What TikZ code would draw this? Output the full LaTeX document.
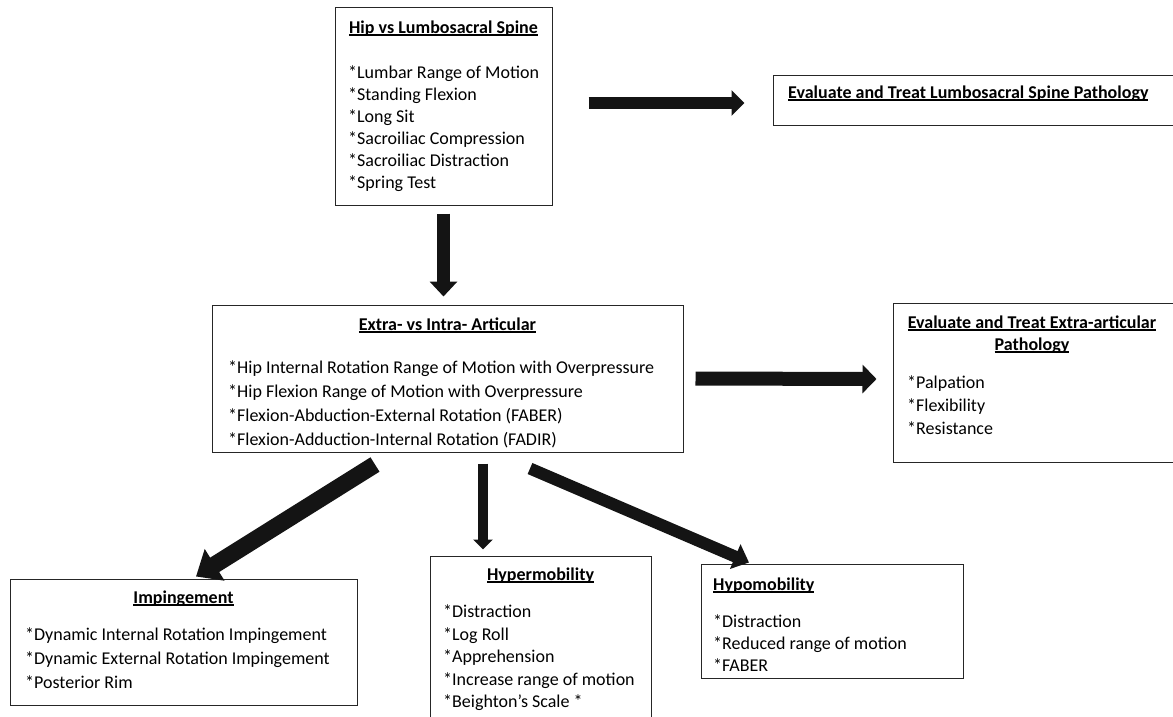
\documentclass[tikz,border=0pt]{standalone}
\usepackage{fontspec}
\setmainfont{Carlito}
\usetikzlibrary{arrows.meta}

\newsavebox{\ttlbox}
\newcommand{\ttl}[1]{\sbox{\ttlbox}{\bfseries #1}\rlap{\rule[-2.6pt]{\wd\ttlbox}{1.6pt}}\usebox{\ttlbox}}

\tikzset{
  box/.style={draw=black!85, line width=1pt, inner sep=0pt},
  ttl/.style={inner sep=0pt, font=\fontsize{18}{22}\selectfont, anchor=base},
  item/.style={inner sep=0pt, font=\fontsize{18}{22}\selectfont, anchor=base west},
  fat/.style n args={3}{draw=black!92, line width=#1, -{Triangle[width=#2, length=#3]}}
}

\begin{document}
\begin{tikzpicture}[x=1pt, y=-1pt]

\useasboundingbox (0,0) rectangle (1173,716);
\clip (0,0) rectangle (1173,716);

% boxes
\node [box, minimum width=217, minimum height=198] (hip) at (443.5,106) {};
\node [box, minimum width=407, minimum height=50] (lsp) at (976.5,100) {};
\node [box, minimum width=471, minimum height=147] (art) at (447.5,378.5) {};
\node [box, minimum width=287, minimum height=159] (ext) at (1036.5,382.5) {};
\node [box, minimum width=347, minimum height=126] (imp) at (183.5,642) {};
\node [box, minimum width=221, minimum height=184] (hyper) at (540.5,648) {};
\node [box, minimum width=262, minimum height=114] (hypo) at (832,621) {};

% titles
\node [ttl] (hip-t) at (443.5,33) {\ttl{Hip vs Lumbosacral Spine}};
\node [ttl, anchor=base west] (lsp-t) at (788,98) {\ttl{Evaluate and Treat Lumbosacral Spine Pathology}};
\node [ttl] (art-t) at (447.5,330) {\ttl{Extra- vs Intra- Articular}};
\node [ttl] (ext-t) at (1032,328) {\ttl{Evaluate and Treat Extra-articular}};
\node [ttl] (ext-t2) at (1032,350) {\ttl{Pathology}};
\node [ttl] (imp-t) at (183.5,603) {\ttl{Impingement}};
\node [ttl] (hyper-t) at (540.5,580) {\ttl{Hypermobility}};
\node [ttl, anchor=base west] (hypo-t) at (713,590) {\ttl{Hypomobility}};

% lists
\foreach \t [count=\i] in {*Lumbar Range of Motion, *Standing Flexion, *Long Sit,
    *Sacroiliac Compression, *Sacroiliac Distraction, *Spring Test}
  \node [item] (hip-\i) at (348,56+22*\i) {\t};

\foreach \t [count=\i] in {*Hip Internal Rotation Range of Motion with Overpressure,
    *Hip Flexion Range of Motion with Overpressure,
    *Flexion-Abduction-External Rotation (FABER),
    *Flexion-Adduction-Internal Rotation (FADIR)}
  \node [item] (art-\i) at (228,349+24*\i) {\t};

\foreach \t [count=\i] in {*Palpation, *Flexibility, *Resistance}
  \node [item] (ext-\i) at (907,365+23*\i) {\t};

\foreach \t [count=\i] in {*Dynamic Internal Rotation Impingement,
    *Dynamic External Rotation Impingement, *Posterior Rim}
  \node [item] (imp-\i) at (25,616+24*\i) {\t};

\foreach \t [count=\i] in {*Distraction, *Log Roll, *Apprehension,
    *Increase range of motion, *Beighton’s Scale *}
  \node [item] (hyper-\i) at (443,595+22.5*\i) {\t};

\foreach \t [count=\i] in {*Distraction, *Reduced range of motion, *FABER}
  \node [item] (hypo-\i) at (713,605+22*\i) {\t};

% arrows
\draw [fat={12}{25}{13}] ([xshift=36,yshift=3]hip.east) -- ([xshift=-28,yshift=-3]lsp.west);
\draw [fat={13}{27}{15}] ([yshift=-8]hip.south) -- ([xshift=-4,yshift=8]art.north);
\draw [fat={14}{28}{14}] ([xshift=12]art.east) -- ([xshift=-16,yshift=3.5]ext.west);
\draw [fat={10}{19}{10}] ([xshift=35.5,yshift=-11]art.south) -- ([xshift=-57.5,yshift=6]hyper.north);
\draw [fat={17}{36}{22}] ([xshift=-72.5,yshift=-12]art.south) -- ([xshift=12.5,yshift=2]imp.north);
\draw [fat={12}{26}{15}] ([xshift=82.5,yshift=-16]art.south) -- ([xshift=-83,yshift=1]hypo.north);

\end{tikzpicture}
\end{document}
